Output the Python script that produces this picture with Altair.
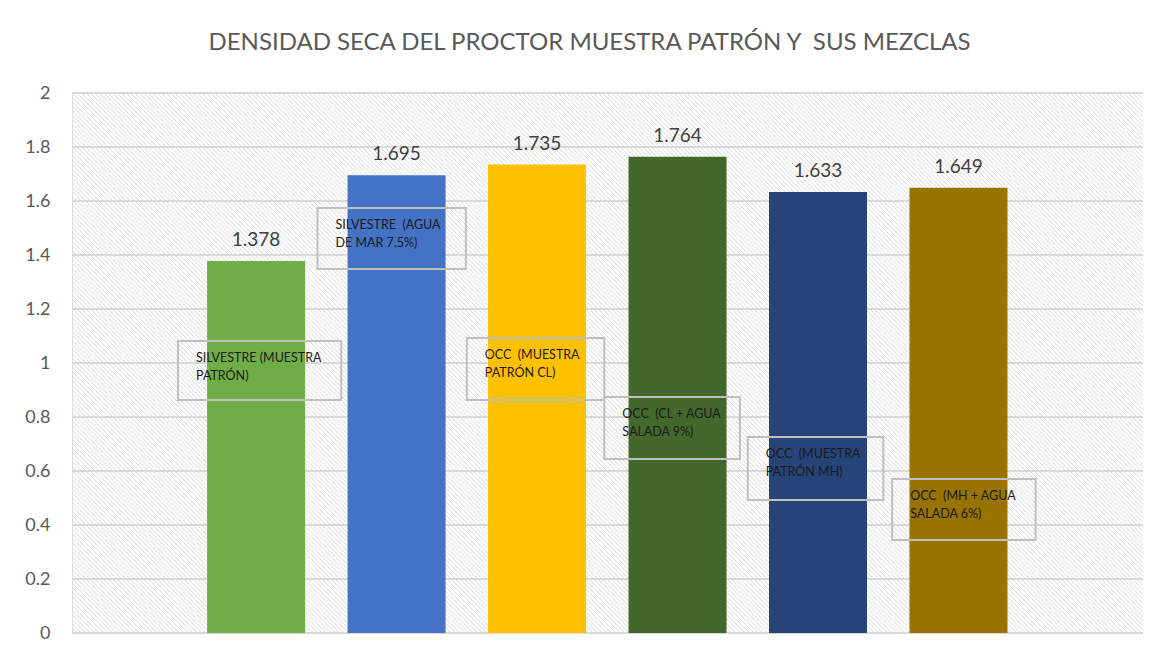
import altair as alt
import pandas as pd

NBSP = "\u00a0"

# ---- data ----
categories = [
    "SILVESTRE (MUESTRA PATRÓN)",
    "SILVESTRE  (AGUA DE MAR 7.5%)",
    "OCC  (MUESTRA PATRÓN CL)",
    "OCC  (CL + AGUA SALADA 9%)",
    "OCC  (MUESTRA PATRÓN MH)",
    "OCC  (MH + AGUA SALADA 6%)",
]
values = [1.378, 1.695, 1.735, 1.764, 1.633, 1.649]
label_lines = [
    ["SILVESTRE (MUESTRA", "PATRÓN)"],
    ["SILVESTRE  (AGUA", "DE MAR 7.5%)"],
    ["OCC  (MUESTRA", "PATRÓN CL)"],
    ["OCC  (CL + AGUA", "SALADA 9%)"],
    ["OCC  (MUESTRA", "PATRÓN MH)"],
    ["OCC  (MH + AGUA", "SALADA 6%)"],
]
y_ticks = [0, 0.2, 0.4, 0.6, 0.8, 1.0, 1.2, 1.4, 1.6, 1.8, 2.0]
title_text = "DENSIDAD SECA DEL PROCTOR MUESTRA PATRÓN Y  SUS MEZCLAS"

# ---- styling / layout (kept apart from the data) ----
colors = ["#70ad47", "#4472c4", "#ffc000", "#43682b", "#264478", "#997300"]
# annotation box placement, in category-index units (x) and axis units (y)
box_x1 = [-0.556, 0.437, 1.500, 2.479, 3.500, 4.528]
box_x2 = [0.606, 1.493, 2.479, 3.444, 4.465, 5.549]
box_y1 = [1.0815, 1.574, 1.0926, 0.874, 0.726, 0.570]
box_y2 = [0.863, 1.348, 0.863, 0.644, 0.4926, 0.344]

X_DOMAIN = [-1.275, 6.278]
FONT = "Lato"


def keep_spaces(s):
    # keep double spaces visible in SVG text
    return s.replace("  ", " " + NBSP)


df = pd.DataFrame({
    "cat": categories,
    "idx": list(range(len(categories))),
    "val": values,
    "lines": [[keep_spaces(t) for t in ln] for ln in label_lines],
    "bx1": box_x1,
    "bx2": box_x2,
    "by1": box_y1,
    "by2": box_y2,
})
grid_df = pd.DataFrame({"t": y_ticks})

xs = alt.Scale(domain=X_DOMAIN, nice=False, zero=False)
ys = alt.Scale(domain=[0, 2], nice=False)

# hatch background (light downward diagonal), drawn in axis units
hatch = (
    alt.Chart(alt.sequence(0, 380, as_="i"))
    .transform_calculate(
        hx=f"{X_DOMAIN[0] - 3.803} + datum.i * 0.0317",
        hx2=f"{X_DOMAIN[0]} + datum.i * 0.0317",
        hy="2",
        hy2="0",
    )
    .mark_rule(color="#d9d9d9", strokeWidth=1, clip=True)
    .encode(
        x=alt.X("hx:Q", scale=xs, axis=None),
        x2="hx2:Q",
        y=alt.Y("hy:Q", scale=ys),
        y2="hy2:Q",
    )
)

grid = (
    alt.Chart(grid_df)
    .mark_rule(color="#d9d9d9", strokeWidth=2)
    .encode(
        y=alt.Y(
            "t:Q",
            scale=ys,
            title=None,
            axis=alt.Axis(
                values=y_ticks,
                format="~g",
                grid=False,
                domain=False,
                ticks=False,
                labelFontSize=18,
                labelColor="#595959",
                labelPadding=22,
                labelFont=FONT,
            ),
        )
    )
)

base = alt.Chart(df)

bars = base.mark_bar(size=98).encode(
    x=alt.X("idx:Q", scale=xs, axis=None),
    y=alt.Y("val:Q", scale=ys),
    color=alt.Color("cat:N", scale=alt.Scale(domain=categories, range=colors), legend=None),
)

value_text = base.mark_text(
    dy=-15, baseline="alphabetic", fontSize=19, color="#404040", font=FONT
).encode(
    x=alt.X("idx:Q", scale=xs),
    y=alt.Y("val:Q", scale=ys),
    text=alt.Text("val:Q", format=".3f"),
)

boxes = base.mark_rect(fillOpacity=0, stroke="#bfbfbf", strokeWidth=2).encode(
    x=alt.X("bx1:Q", scale=xs),
    x2="bx2:Q",
    y=alt.Y("by1:Q", scale=ys),
    y2="by2:Q",
)

box_text = base.mark_text(
    align="left", baseline="top", dx=18, dy=11, fontSize=12.5, lineHeight=18,
    color="#1a1a1a", font=FONT,
).encode(
    x=alt.X("bx1:Q", scale=xs),
    y=alt.Y("by1:Q", scale=ys),
    text="lines",
)

chart = (
    alt.layer(hatch, grid, bars, value_text, boxes, box_text)
    .properties(
        width=1071,
        height=540,
        autosize=alt.AutoSizeParams(type="none"),
        padding={"left": 64, "top": 85, "right": 0, "bottom": 24},
        title=alt.TitleParams(
            text=keep_spaces(title_text),
            fontSize=24,
            font=FONT,
            fontWeight="normal",
            color="#595959",
            anchor="middle",
            baseline="alphabetic",
            offset=10,
            dx=-18,
        ),
    )
    .configure_view(stroke="#d9d9d9", strokeWidth=2)
    .configure(background="white")
)

chart.save("out.html", embed_options={"renderer": "svg", "actions": False})
